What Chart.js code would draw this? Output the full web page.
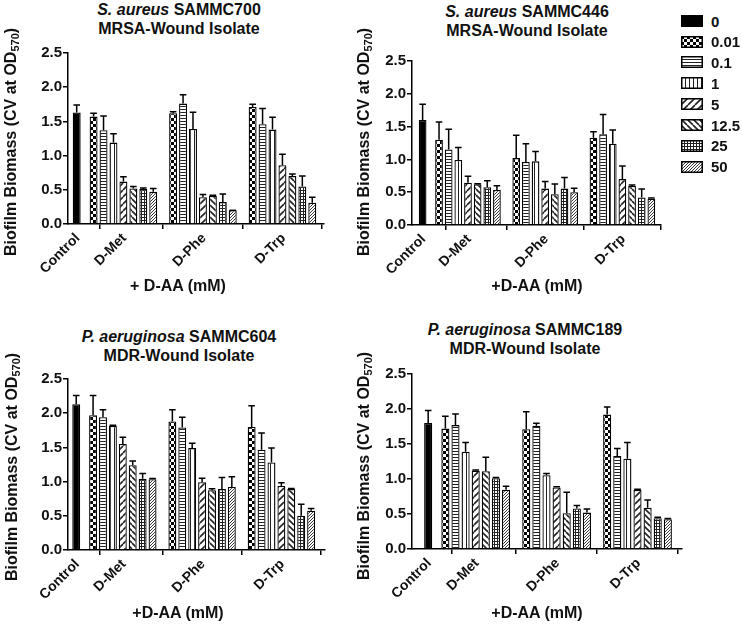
<!DOCTYPE html>
<html>
<head>
<meta charset="utf-8">
<script src="https://cdn.jsdelivr.net/npm/chart.js@4.4.1/dist/chart.umd.min.js"></script>
<style>
  body { margin: 0; background: #fff; }
  #wrap { position: relative; width: 742px; height: 631px; overflow: hidden;
          font-family: 'Liberation Sans', Arial, sans-serif; font-weight: bold; color: #111; }
  canvas.panel { position: absolute; }
  .t { position: absolute; width: 300px; text-align: center; white-space: nowrap; font-size: 16px; line-height: 19px; }
  .yt { position: absolute; white-space: nowrap; font-size: 16px; transform: translate(-50%, -50%) rotate(-90deg); }
  .yt sub { font-size: 11px; vertical-align: -3px; }
  .xt { position: absolute; white-space: nowrap; font-size: 16px; transform: translate(-50%, -50%); }
  .leg { position: absolute; left: 681px; height: 18px; display: flex; align-items: center; font-size: 15px; }
  .leg canvas { width: 22px; height: 12px; margin-right: 8px; }
</style>
</head>
<body>
<div id="wrap">
  <div class="t" style="left:29px;top:0px"><i>S. aureus</i> SAMMC700<br>MRSA-Wound Isolate</div>
  <div class="t" style="left:377px;top:2px"><i>S. aureus</i> SAMMC446<br>MRSA-Wound Isolate</div>
  <div class="t" style="left:29px;top:327px"><i>P. aeruginosa</i> SAMMC604<br>MDR-Wound Isolate</div>
  <div class="t" style="left:375px;top:320px"><i>P. aeruginosa</i> SAMMC189<br>MDR-Wound Isolate</div>

  <div class="yt" style="left:11px;top:142px">Biofilm Biomass (CV at OD<sub>570</sub>)</div>
  <div class="yt" style="left:364px;top:142px">Biofilm Biomass (CV at OD<sub>570</sub>)</div>
  <div class="yt" style="left:12px;top:467px">Biofilm Biomass (CV at OD<sub>570</sub>)</div>
  <div class="yt" style="left:364px;top:466px">Biofilm Biomass (CV at OD<sub>570</sub>)</div>

  <div class="xt" style="left:178px;top:286px">+ D-AA (mM)</div>
  <div class="xt" style="left:537px;top:286px">+D-AA (mM)</div>
  <div class="xt" style="left:178px;top:613px">+D-AA (mM)</div>
  <div class="xt" style="left:537px;top:613px">+D-AA (mM)</div>
</div>
<script>
const xLabels = ['Control', 'D-Met', 'D-Phe', 'D-Trp'];
const doses = ['0', '0.01', '0.1', '1', '5', '12.5', '25', '50'];

// S. aureus SAMMC700 (value, error)
const sa700Control = [1.63, 0.11];
const sa700Met = [1.57, 1.37, 1.19, 0.62, 0.52, 0.51, 0.47];
const sa700MetErr = [0.05, 0.21, 0.13, 0.07, 0.03, 0.015, 0.05];
const sa700Phe = [1.62, 1.76, 1.39, 0.39, 0.41, 0.32, 0.20];
const sa700PheErr = [0.02, 0.13, 0.245, 0.04, 0.01, 0.12, 0];
const sa700Trp = [1.71, 1.46, 1.38, 0.86, 0.70, 0.55, 0.31];
const sa700TrpErr = [0.04, 0.23, 0.18, 0.16, 0.03, 0.15, 0.08];

// S. aureus SAMMC446
const sa446Control = [1.60, 0.24];
const sa446Met = [1.30, 1.15, 0.99, 0.645, 0.62, 0.575, 0.535];
const sa446MetErr = [0.27, 0.31, 0.19, 0.10, 0.01, 0.10, 0.065];
const sa446Phe = [1.02, 0.96, 0.97, 0.555, 0.47, 0.555, 0.50];
const sa446PheErr = [0.35, 0.28, 0.15, 0.11, 0.155, 0.17, 0.06];
const sa446Trp = [1.33, 1.385, 1.24, 0.70, 0.595, 0.42, 0.40];
const sa446TrpErr = [0.09, 0.30, 0.21, 0.20, 0.015, 0.13, 0.01];

// P. aeruginosa SAMMC604
const pa604Control = [2.13, 0.13];
const pa604Met = [1.97, 1.94, 1.815, 1.55, 1.24, 1.04, 1.035];
const pa604MetErr = [0.29, 0.11, 0.01, 0.10, 0.06, 0.08, 0.01];
const pa604Phe = [1.88, 1.79, 1.49, 0.99, 0.875, 0.89, 0.92];
const pa604PheErr = [0.17, 0.15, 0.07, 0.06, 0.02, 0.17, 0.15];
const pa604Trp = [1.80, 1.465, 1.28, 0.935, 0.89, 0.50, 0.575];
const pa604TrpErr = [0.31, 0.245, 0.21, 0.05, 0.01, 0.17, 0.03];

// P. aeruginosa SAMMC189
const pa189Control = [1.80, 0.18];
const pa189Met = [1.72, 1.77, 1.39, 1.12, 1.11, 1.01, 0.845];
const pa189MetErr = [0.175, 0.16, 0.13, 0.01, 0.20, 0.01, 0.05];
const pa189Phe = [1.71, 1.76, 1.055, 0.88, 0.51, 0.58, 0.52];
const pa189PheErr = [0.25, 0.035, 0.025, 0.01, 0.30, 0.04, 0.05];
const pa189Trp = [1.92, 1.33, 1.29, 0.845, 0.59, 0.44, 0.425];
const pa189TrpErr = [0.11, 0.105, 0.23, 0.01, 0.11, 0.015, 0.01];

// where each plot area sits on the page
const panels = [
  {left: 68, top: 53, bottom: 224, right: 324, xMin: -0.875, xMax: 24.88,
   control: sa700Control, groups: [sa700Met, sa700Phe, sa700Trp], errs: [sa700MetErr, sa700PheErr, sa700TrpErr]},
  {left: 412, top: 61, bottom: 225, right: 661, xMin: -1.1, xMax: 24.7,
   control: sa446Control, groups: [sa446Met, sa446Phe, sa446Trp], errs: [sa446MetErr, sa446PheErr, sa446TrpErr]},
  {left: 68, top: 379, bottom: 550, right: 325, xMin: -0.83, xMax: 25.1,
   control: pa604Control, groups: [pa604Met, pa604Phe, pa604Trp], errs: [pa604MetErr, pa604PheErr, pa604TrpErr]},
  {left: 412, top: 374, bottom: 549, right: 682, xMin: -1.6, xMax: 25.1,
   control: pa189Control, groups: [pa189Met, pa189Phe, pa189Trp], errs: [pa189MetErr, pa189PheErr, pa189TrpErr]},
];

const groupStart = 1.7;   // slot of first D-Met bar
const groupStep = 8;
const tickPos = [0, groupStart + 3, groupStart + 3 + groupStep, groupStart + 3 + 2 * groupStep];

function makePattern(kind) {
  if (kind === 'solid') return '#000';
  const c = document.createElement('canvas');
  const sizes = {checker: 6, hlines: 3, vlines: 4, diagUp: 7, diagDown: 6, grid: 3, diagFine: 3};
  const s = sizes[kind];
  c.width = s; c.height = s;
  const g = c.getContext('2d');
  g.fillStyle = '#fff';
  g.fillRect(0, 0, s, s);
  g.fillStyle = '#222';
  g.strokeStyle = '#222';
  if (kind === 'checker') {
    g.fillStyle = '#000';
    g.fillRect(0, 0, 3, 3);
    g.fillRect(3, 3, 3, 3);
  } else if (kind === 'hlines') {
    g.fillRect(0, 0, s, 1);
  } else if (kind === 'vlines') {
    g.fillRect(0, 0, 1, s);
  } else if (kind === 'grid') {
    g.fillRect(0, 0, s, 1);
    g.fillRect(0, 0, 1, s);
  } else {
    g.lineWidth = kind === 'diagFine' ? 0.9 : 1.6;
    g.beginPath();
    for (const o of [-s, 0, s]) {
      if (kind === 'diagDown') { g.moveTo(o, 0); g.lineTo(o + s, s); }
      else { g.moveTo(o, s); g.lineTo(o + s, 0); }
    }
    g.stroke();
  }
  return g.createPattern(c, 'repeat');
}

const patternKinds = ['solid', 'checker', 'hlines', 'vlines', 'diagUp', 'diagDown', 'grid', 'diagFine'];
const fills = patternKinds.map(makePattern);

const errorBars = {
  id: 'errorBars',
  afterDatasetsDraw(chart) {
    const ctx = chart.ctx;
    const y = chart.scales.y;
    ctx.save();
    ctx.strokeStyle = '#000';
    ctx.lineWidth = 1.5;
    chart.data.datasets.forEach((ds, i) => {
      chart.getDatasetMeta(i).data.forEach((bar, j) => {
        const e = ds.errors[j];
        const yTop = y.getPixelForValue(ds.data[j].y + e);
        ctx.beginPath();
        ctx.moveTo(bar.x, bar.y);
        ctx.lineTo(bar.x, yTop);
        ctx.moveTo(bar.x - 3.3, yTop);
        ctx.lineTo(bar.x + 3.3, yTop);
        ctx.stroke();
      });
    });
    ctx.restore();
  }
};

// category names under the x axis, slanted 45 degrees
const slantLabels = {
  id: 'slantLabels',
  afterDraw(chart) {
    const {ctx, chartArea} = chart;
    const x = chart.scales.x;
    ctx.save();
    ctx.font = "bold 14px 'Liberation Sans', Arial, sans-serif";
    ctx.fillStyle = '#111';
    ctx.textAlign = 'right';
    ctx.textBaseline = 'middle';
    tickPos.forEach((v, i) => {
      ctx.save();
      ctx.translate(x.getPixelForValue(v) + 1, chartArea.bottom + 12);
      ctx.rotate(-Math.PI / 4);
      ctx.fillText(xLabels[i], 0, 0);
      ctx.restore();
    });
    ctx.restore();
  }
};

Chart.defaults.font.family = "'Liberation Sans', Arial, sans-serif";
Chart.defaults.font.weight = 'bold';
Chart.defaults.font.size = 15;
Chart.defaults.color = '#111';

const wrap = document.getElementById('wrap');

panels.forEach(p => {
  const yAxisW = 50, xAxisH = 70, padTop = 10, padRight = 4;
  const cv = document.createElement('canvas');
  cv.className = 'panel';
  const cLeft = p.left - yAxisW, cTop = p.top - padTop;
  cv.width = p.right + padRight - cLeft;
  cv.height = p.bottom + xAxisH - cTop;
  cv.style.left = cLeft + 'px';
  cv.style.top = cTop + 'px';
  wrap.insertBefore(cv, wrap.firstChild);

  const datasets = doses.map((d, k) => {
    let data, errors;
    if (k === 0) {
      data = [{x: 0, y: p.control[0]}];
      errors = [p.control[1]];
    } else {
      data = p.groups.map((g, gi) => ({x: groupStart + gi * groupStep + (k - 1), y: g[k - 1]}));
      errors = p.errs.map(g => g[k - 1]);
    }
    return {
      label: d, data, errors,
      backgroundColor: fills[k],
      borderColor: '#000',
      borderWidth: 1.3,
      barPercentage: 0.8,
      categoryPercentage: 1,
      grouped: false
    };
  });

  const axisLine = {color: '#000', width: 1.5};
  const tickGrid = {drawOnChartArea: false, color: '#000', lineWidth: 1.5, tickLength: 5};

  new Chart(cv, {
    type: 'bar',
    data: {datasets},
    plugins: [errorBars, slantLabels],
    options: {
      responsive: false,
      animation: false,
      layout: {padding: {top: padTop, right: padRight, left: 0, bottom: 0}},
      plugins: {legend: {display: false}, tooltip: {enabled: false}},
      scales: {
        x: {
          type: 'linear', min: p.xMin, max: p.xMax, offset: false, bounds: 'data',
          afterBuildTicks: s => { s.ticks = tickPos.map(v => ({value: v})); },
          afterFit: s => { s.height = xAxisH; },
          ticks: {display: false, autoSkip: false},
          grid: tickGrid,
          border: axisLine
        },
        y: {
          min: 0, max: 2.5,
          afterFit: s => { s.width = yAxisW; },
          ticks: {stepSize: 0.5, padding: 1, callback: v => v.toFixed(1)},
          grid: tickGrid,
          border: axisLine
        }
      }
    }
  });
});

// legend with the same fills
const legTops = [21, 41.7, 62, 83, 104, 125, 145.7, 166.7];
doses.forEach((d, k) => {
  const row = document.createElement('div');
  row.className = 'leg';
  row.style.top = (legTops[k] - 9) + 'px';
  const sw = document.createElement('canvas');
  sw.width = 22; sw.height = 12;
  const g = sw.getContext('2d');
  g.fillStyle = fills[k];
  g.fillRect(0, 0, 22, 12);
  g.strokeStyle = '#000';
  g.lineWidth = 1.5;
  g.strokeRect(0.75, 0.75, 20.5, 10.5);
  row.appendChild(sw);
  row.appendChild(document.createTextNode(d));
  wrap.appendChild(row);
});
</script>
</body>
</html>
